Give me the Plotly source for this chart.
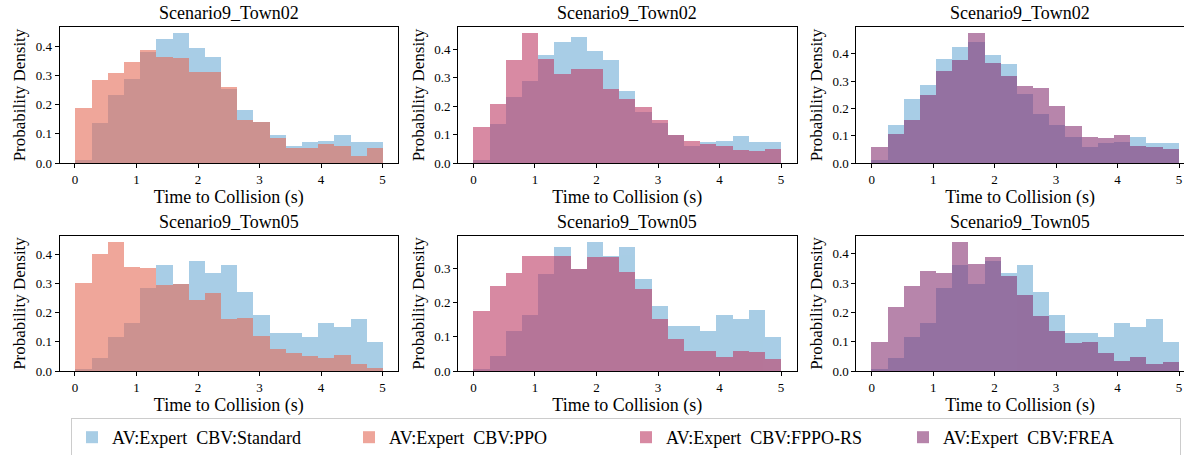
import numpy as np
import plotly.graph_objects as go

# ---------------- data (probability density per bin, 19 bins over 0..5 s) ----------------
bin_edges = np.linspace(0, 5, 20)

town02_standard = [0.010, 0.138, 0.234, 0.287, 0.382, 0.426, 0.444, 0.395, 0.362, 0.253,
                   0.181, 0.141, 0.097, 0.060, 0.073, 0.077, 0.096, 0.073, 0.073]
town02_ppo = [0.187, 0.283, 0.309, 0.346, 0.389, 0.363, 0.359, 0.312, 0.312, 0.260,
              0.146, 0.141, 0.087, 0.050, 0.050, 0.064, 0.060, 0.025, 0.050]
town02_fppors = [0.128, 0.206, 0.361, 0.456, 0.365, 0.315, 0.332, 0.332, 0.262, 0.226,
                 0.198, 0.150, 0.100, 0.079, 0.066, 0.060, 0.047, 0.042, 0.048]
town02_frea = [0.059, 0.105, 0.157, 0.250, 0.336, 0.379, 0.475, 0.366, 0.319, 0.281,
               0.276, 0.208, 0.137, 0.094, 0.092, 0.103, 0.064, 0.057, 0.050]

town05_standard = [0.004, 0.044, 0.117, 0.164, 0.283, 0.363, 0.297, 0.376, 0.336, 0.363,
                   0.270, 0.191, 0.131, 0.131, 0.117, 0.164, 0.151, 0.177, 0.098]
town05_ppo = [0.303, 0.402, 0.441, 0.357, 0.352, 0.295, 0.298, 0.243, 0.267, 0.178,
              0.183, 0.121, 0.075, 0.062, 0.050, 0.043, 0.055, 0.024, 0.010]
town05_fppors = [0.175, 0.248, 0.287, 0.337, 0.337, 0.337, 0.299, 0.334, 0.334, 0.290,
                 0.240, 0.153, 0.095, 0.059, 0.059, 0.042, 0.059, 0.056, 0.035]
town05_frea = [0.099, 0.219, 0.291, 0.343, 0.335, 0.439, 0.367, 0.389, 0.324, 0.258,
               0.189, 0.136, 0.094, 0.098, 0.063, 0.035, 0.047, 0.024, 0.032]

titles = ["Scenario9_Town02", "Scenario9_Town02", "Scenario9_Town02",
          "Scenario9_Town05", "Scenario9_Town05", "Scenario9_Town05"]
series_names = ["AV:Expert\u00a0\u00a0CBV:Standard", "AV:Expert\u00a0\u00a0CBV:PPO",
                "AV:Expert\u00a0\u00a0CBV:FPPO-RS", "AV:Expert\u00a0\u00a0CBV:FREA"]
x_ticks = [0, 1, 2, 3, 4, 5]
x_label = "Time to Collision (s)"
y_label = "Probability Density"

# ---------------- styling ----------------
colors = ["#70acd5", "#e46b58", "#be3c66", "#873473"]
alpha = 0.6
FONT = "Liberation Serif, 'Times New Roman', Times, serif"
W, H = 1184, 455

centers = (bin_edges[:-1] + bin_edges[1:]) / 2
bw = bin_edges[1] - bin_edges[0]

panels = [
    (town02_standard, town02_ppo, 1), (town02_standard, town02_fppors, 2), (town02_standard, town02_frea, 3),
    (town05_standard, town05_ppo, 1), (town05_standard, town05_fppors, 2), (town05_standard, town05_frea, 3),
]

# pixel frames of each panel (left, right, top, bottom)
col_px = [(59.6, 398.0), (458.0, 796.5), (856.3, 1184.0)]
row_px = [(27.0, 163.0), (236.0, 371.0)]
col_xmax = [5.25, 5.25, 5.25 - (1194.4 - 1184.0) / 61.5]

fig = go.Figure()
shown = set()
annotations = []
for i, (base, other, k) in enumerate(panels):
    r, c = divmod(i, 3)
    ax = "" if i == 0 else str(i + 1)
    xa, ya = "x" + ax, "y" + ax
    for vals, ci in ((base, 0), (other, k)):
        fig.add_trace(go.Bar(
            x=centers, y=vals, width=bw, xaxis=xa, yaxis=ya,
            marker=dict(color=colors[ci], line=dict(width=0)), opacity=alpha,
            name=series_names[ci], legendgroup=series_names[ci],
            showlegend=ci not in shown,
        ))
        shown.add(ci)
    x0, x1 = col_px[c]
    t0, t1 = row_px[r]
    ymax = max(max(base), max(other)) * 1.05
    xdom = [x0 / W, x1 / W]
    ydom = [(H - t1) / H, (H - t0) / H]
    fig.layout["xaxis" + ax] = dict(
        domain=xdom, anchor=ya, range=[-0.25, col_xmax[c]], automargin=False,
        tickmode="array", tickvals=x_ticks, ticktext=[str(v) for v in x_ticks],
        ticks="outside", ticklen=4, tickwidth=1, tickcolor="black",
        showline=True, linecolor="black", linewidth=1, mirror=True,
        showgrid=False, zeroline=False,
        tickfont=dict(family=FONT, size=13, color="black"),
        title=dict(text=x_label, font=dict(family=FONT, size=18, color="black"), standoff=1),
    )
    fig.layout["yaxis" + ax] = dict(
        domain=ydom, anchor=xa, range=[0, ymax], automargin=False,
        tickmode="linear", tick0=0, dtick=0.1, tickformat=".1f",
        ticks="outside", ticklen=4, tickwidth=1, tickcolor="black",
        showline=True, linecolor="black", linewidth=1, mirror=True,
        showgrid=False, zeroline=False,
        tickfont=dict(family=FONT, size=13, color="black"),
        title=dict(text=y_label, font=dict(family=FONT, size=17, color="black"), standoff=5),
    )
    annotations.append(dict(
        text=titles[i], xref="paper", yref="paper",
        x=(xdom[0] + min(xdom[1], (x0 + 338.4) / W)) / 2, y=ydom[1] + 2 / H,
        xanchor="center", yanchor="bottom", showarrow=False,
        font=dict(family=FONT, size=18, color="black"),
    ))

fig.update_layout(
    width=W, height=H, margin=dict(l=0, r=0, t=0, b=0, autoexpand=False),
    barmode="overlay", bargap=0,
    paper_bgcolor="white", plot_bgcolor="white",
    font=dict(family=FONT, color="black"),
    annotations=annotations,
    legend=dict(
        orientation="h", xref="container", yref="container",
        x=71 / W, y=(H - 418) / H, xanchor="left", yanchor="top",
        bordercolor="#cccccc", borderwidth=1, bgcolor="white",
        font=dict(family=FONT, size=18, color="black"),
        entrywidth=232, entrywidthmode="pixels", itemwidth=30,
        traceorder="normal",
    ),
)

fig.write_html("out.html")
